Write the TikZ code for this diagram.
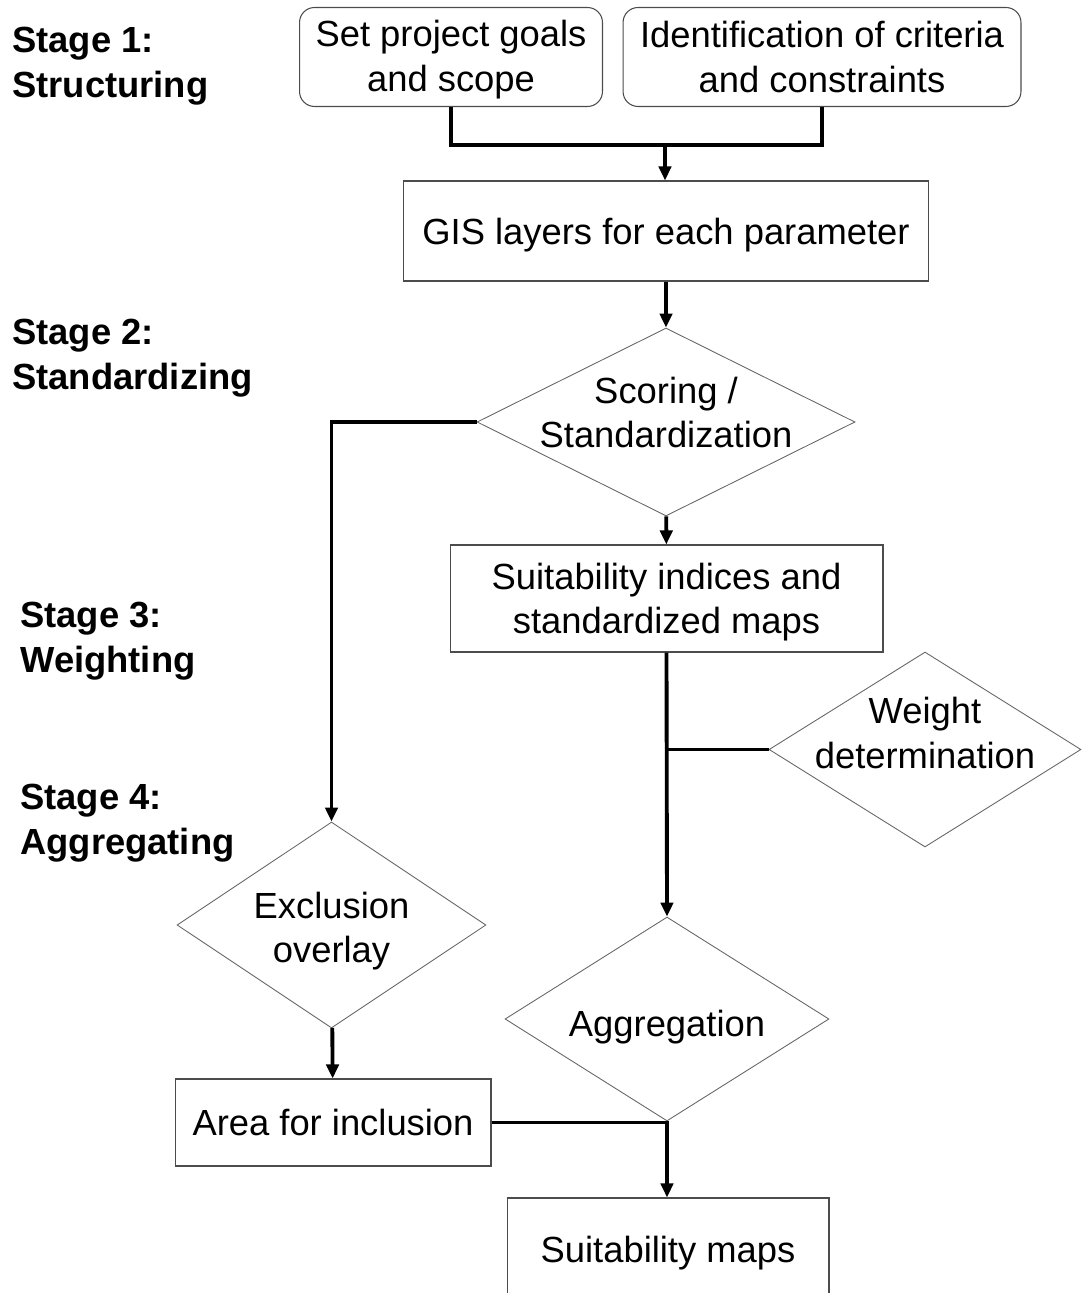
\documentclass[tikz,border=0pt]{standalone}
\usepackage{fontspec}
\setmainfont{Liberation Sans}
\usetikzlibrary{arrows.meta,shapes.geometric}

\tikzset{
    stagebox/.style={draw=black!70, line width=0.6pt, rounded corners=0.3cm, align=center, inner sep=0pt},
    plainbox/.style={draw=black!70, line width=0.6pt, align=center, inner sep=0pt},
    choice/.style={draw=black!60, line width=0.5pt, diamond, align=center, inner xsep=-6pt, inner ysep=-14pt},
    stagelabel/.style={anchor=west, align=left, inner sep=0pt, font=\fontsize{20.7}{25.5}\selectfont\bfseries},
    link/.style={line width=2.2pt},
    flow/.style={line width=2.2pt, -{Triangle[length=8pt, width=7pt]}},
}

\begin{document}
\begin{tikzpicture}[x=0.02cm, y=-0.02cm, font=\fontsize{20.7}{25.5}\selectfont]
    \useasboundingbox (0,0) rectangle (1081,1293);

    \node[stagelabel] (stage1) at (12, 66) {Stage 1:\\Structuring};
    \node[stagelabel] (stage2) at (12, 358) {Stage 2:\\Standardizing};
    \node[stagelabel] (stage3) at (20, 641) {Stage 3:\\Weighting};
    \node[stagelabel] (stage4) at (20, 823) {Stage 4:\\Aggregating};

    \node[stagebox, minimum width=6.06cm, minimum height=1.98cm] (goals) at (451, 57) {\rule{0pt}{18pt}Set project goals\\and scope};
    \node[stagebox, minimum width=7.96cm, minimum height=1.98cm] (criteria) at (822, 57) {Identification of criteria\\and constraints};
    \node[plainbox, minimum width=10.52cm, minimum height=2cm] (gis) at (666, 231) {\rule{0pt}{20pt}GIS layers for each parameter};
    \node[choice, shape aspect=2, minimum width=7.56cm, minimum height=3.76cm] (scoring) at (666, 422) {Scoring /\\Standardization\rule[-11pt]{0pt}{11pt}};
    \node[plainbox, minimum width=8.66cm, minimum height=2.14cm] (indices) at (666.5, 598.5) {\rule{0pt}{19pt}Suitability indices and\\standardized maps};
    \node[choice, shape aspect=1.6, minimum width=6.24cm, minimum height=3.9cm] (weight) at (925, 749.5) {Weight\\determination\rule[-19pt]{0pt}{19pt}};
    \node[choice, shape aspect=1.5, minimum width=6.18cm, minimum height=4.12cm] (exclusion) at (331.5, 925) {\rule{0pt}{22pt}Exclusion\\overlay};
    \node[plainbox, minimum width=6.32cm, minimum height=1.74cm] (area) at (333, 1122.5) {Area for inclusion};
    \node[choice, shape aspect=1.6, minimum width=6.48cm, minimum height=4.08cm] (aggregation) at (667, 1019) {\rule{0pt}{24pt}Aggregation};
    \node[plainbox, minimum width=6.44cm, minimum height=2.04cm] (maps) at (668, 1249) {\rule{0pt}{20pt}Suitability maps};

    % stage 1 -> GIS layers
    \coordinate (merge) at (665, 145);
    \draw[link] (goals.south) |- (merge) -| (criteria.south);
    \draw[flow] (merge) -- (merge |- gis.north);
    \draw[flow] (gis) -- (scoring);

    % standardizing
    \draw[flow] (scoring.west) -| (exclusion.north);
    \draw[flow] (scoring) -- (indices);

    % weighting
    \draw[link] (weight.west) -- (weight.west -| indices.south);
    \draw[flow] (indices.south) -- (aggregation.north);

    % aggregating
    \draw[flow] (exclusion) -- (area);
    \draw[link] (area.east) -- (area.east -| aggregation.south);
    \draw[flow] (aggregation.south) -- (aggregation.south |- maps.north);
\end{tikzpicture}
\end{document}
